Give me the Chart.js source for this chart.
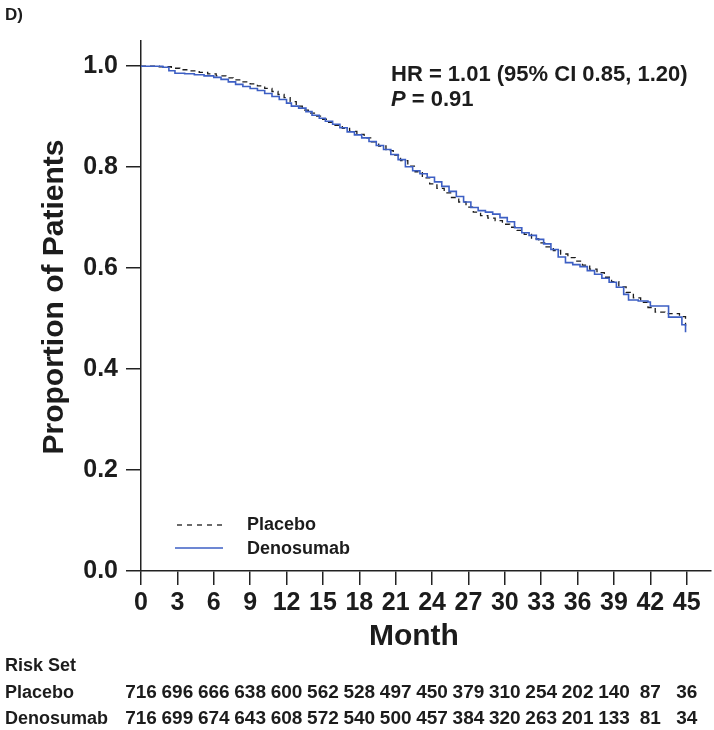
<!DOCTYPE html>
<html>
<head>
<meta charset="utf-8">
<script src="https://cdn.jsdelivr.net/npm/chart.js@4.4.1/dist/chart.umd.min.js"></script>
<style>
  html, body { margin: 0; padding: 0; background: #ffffff; }
  #wrap { width: 714px; height: 730px; position: relative; }
</style>
</head>
<body>
<div id="wrap"><canvas id="c" width="714" height="730"></canvas></div>
<script>
// ---- Data ----
const placeboMonths = [0,1.5,2.5,3.2,4.0,4.8,5.5,6.2,7.0,7.6,8.3,9.0,9.6,10.2,10.8,11.3,11.8,12.3,12.8,13.3,13.8,14.3,14.8,15.4,16.0,16.6,17.2,17.8,18.4,19.0,19.6,20.2,20.8,21.4,22.0,22.6,23.2,23.8,24.4,25.0,25.6,26.2,26.8,27.4,28.0,28.6,29.2,29.8,30.4,31.0,31.6,32.2,32.8,33.4,34.0,34.6,35.2,35.8,36.4,37.0,37.6,38.2,38.8,39.4,40.0,40.6,41.2,41.8,42.4,43.2,44.4,44.9];
const placeboSurv   = [1.000,0.999,0.996,0.993,0.991,0.988,0.985,0.981,0.977,0.973,0.969,0.965,0.961,0.956,0.950,0.944,0.938,0.930,0.921,0.913,0.907,0.901,0.895,0.889,0.883,0.877,0.871,0.865,0.858,0.850,0.842,0.833,0.824,0.813,0.802,0.791,0.779,0.767,0.758,0.749,0.740,0.731,0.721,0.711,0.704,0.699,0.694,0.687,0.681,0.675,0.667,0.658,0.650,0.642,0.635,0.628,0.621,0.614,0.606,0.598,0.591,0.582,0.573,0.563,0.552,0.541,0.532,0.522,0.513,0.510,0.504,0.485];

const denosumabMonths = [0,1.8,2.3,2.8,3.6,4.4,5.2,6.0,6.6,7.2,7.8,8.4,9.0,9.6,10.2,10.8,11.4,12.0,12.4,13.0,13.6,14.1,14.7,15.2,15.8,16.4,17.0,17.6,18.2,18.8,19.4,20.0,20.6,21.2,21.8,22.4,23.0,23.6,24.2,24.8,25.4,26.0,26.6,27.2,27.8,28.4,29.0,29.6,30.2,30.8,31.4,32.0,32.6,33.2,33.8,34.4,35.0,35.6,36.2,36.8,37.4,38.0,38.6,39.2,39.8,40.2,41.0,41.8,42.0,43.5,44.6,44.9];
const denosumabSurv   = [1.000,0.998,0.991,0.986,0.985,0.983,0.981,0.978,0.974,0.969,0.964,0.960,0.956,0.952,0.946,0.940,0.934,0.927,0.921,0.917,0.910,0.903,0.897,0.891,0.885,0.878,0.870,0.864,0.858,0.851,0.843,0.835,0.825,0.815,0.801,0.793,0.787,0.780,0.771,0.762,0.752,0.742,0.731,0.720,0.714,0.711,0.707,0.700,0.692,0.680,0.670,0.665,0.657,0.648,0.637,0.622,0.611,0.607,0.603,0.595,0.588,0.580,0.572,0.562,0.548,0.537,0.535,0.533,0.525,0.503,0.488,0.473];

const xTickValues = [0,3,6,9,12,15,18,21,24,27,30,33,36,39,42,45];
const yTickValues = [0,0.2,0.4,0.6,0.8,1.0];

const riskMonths    = [0,3,6,9,12,15,18,21,24,27,30,33,36,39,42,45];
const riskPlacebo   = [716,696,666,638,600,562,528,497,450,379,310,254,202,140,87,36];
const riskDenosumab = [716,699,674,643,608,572,540,500,457,384,320,263,201,133,81,34];

const seriesNames = ['Placebo','Denosumab'];
const xTitle = 'Month';
const yTitle = 'Proportion of Patients';
const annotationHR = 'HR = 1.01 (95% CI 0.85, 1.20)';
const annotationP = ' = 0.91';
const panelLabel = 'D)';

// ---- Build chart ----
const FONT = "'Liberation Sans', Arial, Helvetica, sans-serif";
const INK = '#1c1c1c';
const BLUE = '#3d5fc4';

const toPts = (xs, ys) => xs.map((x, i) => ({x: x, y: ys[i]}));

const overlay = {
  id: 'overlay',
  afterDraw(chart) {
    const ctx = chart.ctx;
    const xs = chart.scales.x;
    ctx.save();
    ctx.fillStyle = INK;
    ctx.textBaseline = 'middle';

    // panel label
    ctx.font = `bold 17px ${FONT}`;
    ctx.textAlign = 'left';
    ctx.fillText(panelLabel, 5, 15);

    // axis titles
    ctx.font = `bold 30px ${FONT}`;
    ctx.textAlign = 'center';
    ctx.fillText(xTitle, xs.getPixelForValue(22.5), 637);
    ctx.save();
    ctx.translate(55, 297);
    ctx.rotate(-Math.PI / 2);
    ctx.fillText(yTitle, 0, 0);
    ctx.restore();

    // HR annotation
    ctx.textAlign = 'left';
    ctx.font = `bold 22px ${FONT}`;
    ctx.fillText(annotationHR, 391, 75);
    ctx.font = `italic bold 22px ${FONT}`;
    ctx.fillText('P', 391, 100);
    const pw = ctx.measureText('P').width;
    ctx.font = `bold 22px ${FONT}`;
    ctx.fillText(annotationP, 391 + pw, 100);

    // legend
    ctx.lineWidth = 1.3;
    ctx.strokeStyle = INK;
    ctx.setLineDash([5, 5]);
    ctx.beginPath(); ctx.moveTo(177, 525); ctx.lineTo(224, 525); ctx.stroke();
    ctx.setLineDash([]);
    ctx.strokeStyle = BLUE;
    ctx.lineWidth = 1.4;
    ctx.beginPath(); ctx.moveTo(175, 548); ctx.lineTo(223, 548); ctx.stroke();
    ctx.font = `bold 18px ${FONT}`;
    ctx.fillText(seriesNames[0], 247, 525);
    ctx.fillText(seriesNames[1], 247, 549);

    // risk table
    ctx.font = `bold 18px ${FONT}`;
    ctx.textAlign = 'left';
    ctx.fillText('Risk Set', 5, 666);
    ctx.fillText(seriesNames[0], 5, 693);
    ctx.fillText(seriesNames[1], 5, 719);
    ctx.font = `bold 19px ${FONT}`;
    ctx.textAlign = 'center';
    riskMonths.forEach((m, i) => {
      const px = xs.getPixelForValue(m);
      ctx.fillText(String(riskPlacebo[i]), px, 693);
      ctx.fillText(String(riskDenosumab[i]), px, 719);
    });
    ctx.restore();
  }
};

new Chart(document.getElementById('c'), {
  type: 'line',
  data: {
    datasets: [
      {
        label: seriesNames[1],
        data: toPts(denosumabMonths, denosumabSurv),
        borderColor: BLUE,
        borderWidth: 1.6,
        stepped: true,
        pointRadius: 0,
        fill: false
      },
      {
        label: seriesNames[0],
        data: toPts(placeboMonths, placeboSurv),
        borderColor: INK,
        borderWidth: 1.3,
        borderDash: [5, 4],
        stepped: true,
        pointRadius: 0,
        fill: false
      }
    ]
  },
  options: {
    responsive: false,
    animation: false,
    devicePixelRatio: 1,
    layout: { padding: { left: 0, top: 41, right: 3, bottom: 76 } },
    plugins: { legend: { display: false }, tooltip: { enabled: false }, title: { display: false } },
    scales: {
      x: {
        type: 'linear',
        position: 'bottom',
        min: 0,
        max: 47,
        afterBuildTicks: (s) => { s.ticks = xTickValues.map(v => ({ value: v })); },
        afterFit: (s) => { s.height = 83; },
        grid: { drawOnChartArea: false, drawTicks: true, tickLength: 14, lineWidth: 1.5, color: '#222' },
        border: { display: true, color: '#222', width: 1.5 },
        ticks: {
          autoSkip: false, maxRotation: 0, padding: 3, color: INK,
          font: { family: FONT, size: 25, weight: 'bold' },
          callback: (v) => String(v)
        },
        title: { display: false }
      },
      y: {
        type: 'linear',
        position: 'left',
        min: 0,
        max: 1.05,
        afterBuildTicks: (s) => { s.ticks = yTickValues.map(v => ({ value: v })); },
        afterFit: (s) => { s.width = 141; },
        grid: { drawOnChartArea: false, drawTicks: true, tickLength: 15, lineWidth: 1.5, color: '#222' },
        border: { display: true, color: '#222', width: 1.5 },
        ticks: {
          padding: 8, color: INK,
          font: { family: FONT, size: 25, weight: 'bold' },
          callback: (v) => Number(v).toFixed(1)
        },
        title: { display: false }
      }
    }
  },
  plugins: [overlay]
});
</script>
</body>
</html>
